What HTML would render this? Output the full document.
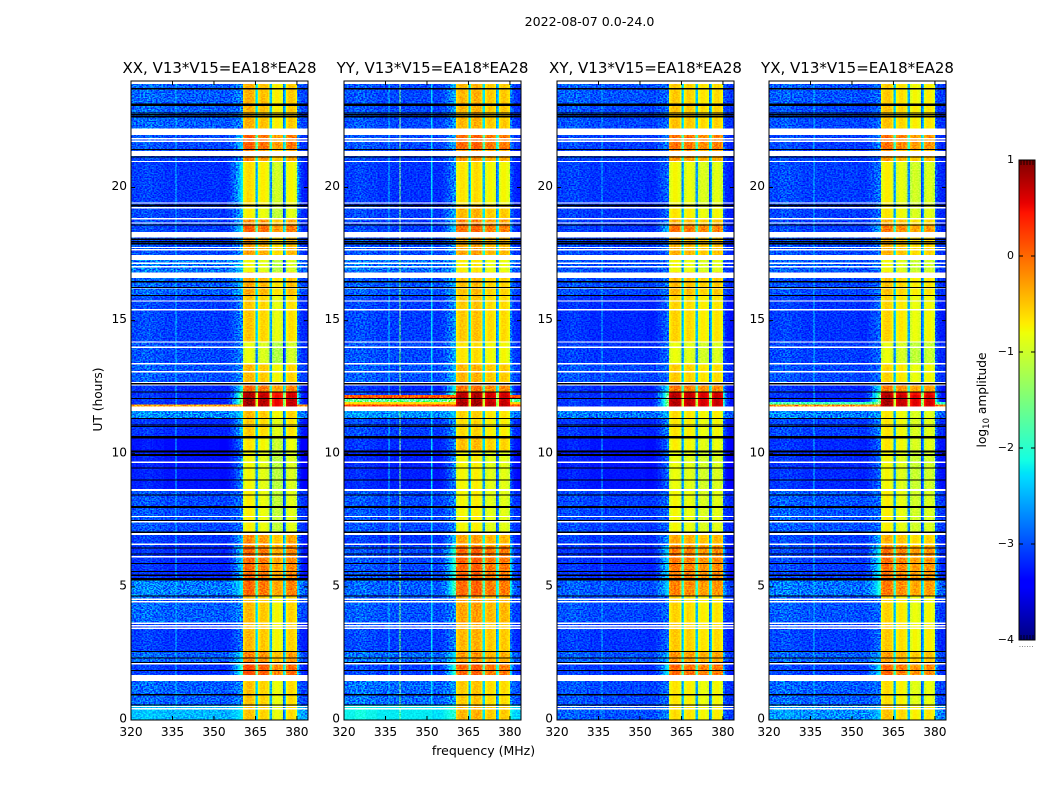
<!DOCTYPE html>
<html lang="en">
<head>
<meta charset="utf-8">
<title>2022-08-07 0.0-24.0 spectrogram panels</title>
<style>
html,body{margin:0;padding:0;background:#fff;}
body{width:1050px;height:800px;overflow:hidden;}
svg{display:block;}
text{font-family:"DejaVu Sans","Liberation Sans",sans-serif;fill:#000;}
</style>
</head>
<body>
<svg id="chart" xmlns="http://www.w3.org/2000/svg" width="1050" height="800" viewBox="0 0 1050 800">
  <text x="589.5" y="26" font-size="12.6" text-anchor="middle">2022-08-07 0.0-24.0</text>
  <g id="panels"></g>
  <text x="483.5" y="755" font-size="12.5" text-anchor="middle">frequency (MHz)</text>
  <text x="0" y="0" font-size="12.2" text-anchor="middle" transform="translate(102,399.5) rotate(-90)">UT (hours)</text>
  <g id="colorbar"></g>
  <text x="0" y="0" font-size="12.2" text-anchor="middle" transform="translate(986,400) rotate(-90)">log<tspan font-size="8.5" dy="3">10</tspan><tspan dy="-3"> amplitude</tspan></text>
  <text x="1026.5" y="647" font-size="6" fill="#777" text-anchor="middle" letter-spacing="0.6">......</text>
</svg>
<script>
// ---- Axis categories and tick labels ----
const panelTitles = ["XX, V13*V15=EA18*EA28", "YY, V13*V15=EA18*EA28", "XY, V13*V15=EA18*EA28", "YX, V13*V15=EA18*EA28"];
const freqTicks = [320, 335, 350, 365, 380];
const hourTicks = [0, 5, 10, 15, 20];
const colorTicks = [1, 0, -1, -2, -3, -4];
const freqRange = [320, 384];
const hourRange = [0, 24];
const colorRange = [-4, 1];
const channelWidthMHz = 0.5;

// ---- Time segments (UT hours) ----
const hourEdges = [24,23.1,22.2,21.4,21.0,19.34,18.82,18.59,18.33,17.46,16.83,15.92,14.2,13.37,12.69,12.32,12.21,12.09,11.94,11.85,11.76,11.34,10.63,10.1,8.64,6.99,6.54,5.3,4.66,3.64,2.55,2.1,1.69,0.56,0];

// ---- log10 amplitude, in-band level per time segment ----
const bandXX = [-.5,-.5,-.05,-.3,-.75,-.85,-.3,-.05,-.4,-.9,-.45,-.62,-.95,-.55,-.1,.65,.7,.75,.75,.75,-.55,-.65,-.8,-.9,-.85,-.3,-.12,-.1,-.55,-.55,-.25,.05,-.6,-.6];
const bandYY = [-.45,-.45,0,-.3,-.7,-.45,-.2,-.05,-.35,-.75,-.5,-.55,-.7,-.45,-.1,.7,.75,.75,.8,.8,-.6,-.65,-.5,-.8,-.8,-.35,0,-.02,-.35,-.45,-.3,0,-.55,-.45];
const bandXY = [-.6,-.55,-.1,-.3,-.85,-.75,-.45,-.1,-.45,-.85,-.5,-.65,-.9,-.6,-.15,.65,.7,.7,.7,.7,-.7,-.75,-.8,-.9,-.85,-.4,-.15,-.2,-.65,-.6,-.3,-.05,-.75,-.7];
const bandYX = [-.65,-.6,-.15,-.4,-.85,-.8,-.5,-.2,-.5,-.9,-.6,-.7,-.95,-.7,-.2,.6,.7,.7,.7,.7,-.8,-.8,-.8,-.9,-.85,-.5,-.15,-.2,-.7,-.65,-.4,-.1,-.75,-.6];

// ---- log10 amplitude, out-of-band level per time segment ----
const bgXX = [-2.85,-2.85,-2.95,-3,-3.05,-3,-3,-3,-2.95,-2.75,-2.85,-3,-2.95,-2.9,-3.1,-3.1,-3.1,-3.1,-3.1,-.3,-2.65,-3.1,-3.25,-3.2,-2.95,-3.05,-3.1,-2.7,-2.85,-3.05,-2.85,-3.05,-2.85,-2.4];
const bgYY = [-2.95,-2.95,-2.95,-3,-3.05,-3,-3,-3,-2.95,-2.8,-2.9,-3,-2.95,-2.9,-3.1,-3,.1,-1.6,-.6,.2,-2.6,-3,-3.1,-3.15,-2.95,-3.05,-2.95,-2.85,-2.9,-3,-2.8,-3,-2.8,-2.15];
const bgXY = [-2.9,-2.95,-3,-3,-3.05,-3.05,-3.05,-3.05,-3,-2.95,-2.95,-3.1,-3.05,-2.95,-3.1,-3.1,-3.1,-3.1,-3.1,-3.1,-2.75,-3.1,-3.2,-3.2,-3,-3.05,-3.1,-2.9,-2.95,-3.05,-2.9,-3.05,-2.95,-2.9];
const bgYX = [-2.9,-2.95,-3,-3,-3,-3,-3,-3,-2.95,-2.9,-2.95,-3.05,-3,-2.95,-3.1,-3.1,-3.1,-3.1,-1.8,-.2,-2.7,-3,-3.1,-3.1,-2.9,-3,-3,-2.75,-2.9,-3,-2.85,-3,-2.85,-2.6];

// ---- log10 amplitude just below the band (skirt at 352-360 MHz) ----
const skirtXX = [-2.7,-2.7,-2.4,-2.7,-2.2,-2.5,-2.5,-2.2,-2.6,-2.4,-2.4,-2.7,-2.7,-2.7,-2.1,-1.5,-1.5,-1.3,-1.3,-1.3,-2.3,-2.4,-2.7,-2.7,-2.8,-2.5,-2.3,-2.2,-2.7,-2.8,-2.2,-1.9,-2.7,-2.2];
const skirtYY = [-2.5,-2.6,-2.5,-2.7,-2.7,-2.5,-2.4,-2.3,-2.6,-2.5,-2.5,-2.6,-2.5,-2.4,-2.1,-1.5,-1.2,-1.2,-1.2,-1.2,-2.4,-2.6,-2.7,-2.7,-2.7,-2.4,-1.9,-1.8,-2.7,-2.7,-2.2,-1.9,-2.6,-2];
const skirtXY = [-2.85,-2.85,-2.7,-2.85,-2.85,-2.85,-2.8,-2.4,-2.85,-2.85,-2.8,-2.85,-2.85,-2.85,-2.2,-1.6,-1.5,-1.4,-1.4,-1.4,-2.5,-2.7,-2.85,-2.85,-2.85,-2.6,-2.3,-2.3,-2.85,-2.85,-2.5,-2.2,-2.85,-2.7];
const skirtYX = [-2.85,-2.85,-2.7,-2.85,-2.8,-2.85,-2.8,-2.5,-2.85,-2.85,-2.8,-2.85,-2.85,-2.85,-2.2,-1.6,-1.5,-1.4,-1.4,-1.4,-2.6,-2.7,-2.85,-2.85,-2.85,-2.5,-2.1,-2,-2.85,-2.85,-2.5,-2.2,-2.85,-2.4];

// ---- Per-channel shapes (0.5 MHz channels) ----
const bandFirstChannel = 81;
const bandShape = [-.2,-.03,0,.05,.05,.05,0,-.03,-.2,-1.9,-1.6,-.15,-.02,.05,.05,.05,0,-.02,-.15,-1.8,-1.7,-.15,-.02,.05,.05,.05,0,-.02,-.15,-2.1,-1.7,-.15,-.02,.05,.05,.05,0,-.02,-.15];
const skirtFirstChannel = 64;
const skirtShape = [0,0,0,0,0,.02,.05,.08,.12,.18,.25,.35,.45,.6,.72,.85,1];
const upperSkirtShape = [.7,.4,.2,.1,.05];
const lowBandSlope = [-.03,.02,-.03,-.08,-.08,-.08,-.08,-.08,-.12,-.08,-.03,-.03,.02,.05,.05,.05];
const aboveBandOffset = -0.2;
const blockOffsetXX = [.1,0,-.25,-.05];
const blockOffsetYY = [0,.05,-.1,-.1];
const blockOffsetXY = [.05,0,-.1,-.05];
const blockOffsetYX = [.1,-.02,-.15,-.1];

// ---- Persistent narrow-band interference: channel, level ----
const rfiChannelsXX = [32];
const rfiLevelsXX = [-2.4];
const rfiChannelsYY = [32, 40, 63];
const rfiLevelsYY = [-2.4, -1.5, -2.3];
const rfiChannelsXY = [32];
const rfiLevelsXY = [-2.5];
const rfiChannelsYX = [32];
const rfiLevelsYX = [-2.4];

// ---- Flagged time ranges (UT hours) ----
const whiteFlags = [[23.89,24],[21.97,22.22],[21.80,21.85],[21.71,21.76],[21.19,21.38],[20.95,21],[19.39,19.44],[19.22,19.27],[18.80,18.85],[18.64,18.69],[18.12,18.33],[17.72,17.77],[17.64,17.69],[17.28,17.46],[17.13,17.18],[17,17.05],[16.60,16.80],[16.21,16.26],[15.71,15.76],[15.38,15.43],[14.17,14.22],[13.98,14.03],[13.35,13.40],[13.06,13.11],[12.65,12.70],[12.56,12.61],[11.61,11.77],[9.66,9.71],[8.60,8.68],[7.62,7.67],[7.42,7.47],[6.95,7.02],[6.57,6.62],[6.11,6.16],[4.51,4.56],[4.42,4.47],[3.61,3.66],[3.52,3.57],[3.42,3.48],[2.09,2.14],[1.47,1.69],[.48,.53],[.40,.45]];
const blackThinHours = [23.71,22.80,22.73,22.66,21.43,21.15,18.59,18.06,17.96,17.89,16.46,16.24,15.94,12.63,12.32,12.08,11.32,11.08,11.02,9.47,9.01,8.45,7.49,7.05,6.46,6.23,5.88,5.58,5.44,4.66,2.57,2.33,2.16,1.86,.95,.56];
const blackThickHours = [23.11,19.32,10.62,10.09,9.95,8.00,5.29];

const bandByPanel = [bandXX, bandYY, bandXY, bandYX];
const bgByPanel = [bgXX, bgYY, bgXY, bgYX];
const skirtByPanel = [skirtXX, skirtYY, skirtXY, skirtYX];
const blockByPanel = [blockOffsetXX, blockOffsetYY, blockOffsetXY, blockOffsetYX];
const rfiChannelsByPanel = [rfiChannelsXX, rfiChannelsYY, rfiChannelsXY, rfiChannelsYX];
const rfiLevelsByPanel = [rfiLevelsXX, rfiLevelsYY, rfiLevelsXY, rfiLevelsYX];

// ---- Layout (not data) ----
const plotLefts = [131, 344, 557, 769];
const plotWidth = 177;
const plotTop = 81;
const plotBottom = 720;
const cbLeft = 1019, cbRight = 1035, cbTop = 160, cbBottom = 640;

const NS = "http://www.w3.org/2000/svg";
function mk(tag, attrs, parent) {
  const el = document.createElementNS(NS, tag);
  for (const k in attrs) el.setAttribute(k, attrs[k]);
  if (parent) parent.appendChild(el);
  return el;
}
function lerpStops(stops, t) {
  if (t <= stops[0][0]) return stops[0][1];
  for (let i = 1; i < stops.length; i++) {
    if (t <= stops[i][0]) {
      const a = stops[i-1], b = stops[i];
      return a[1] + (b[1]-a[1])*(t-a[0])/(b[0]-a[0]);
    }
  }
  return stops[stops.length-1][1];
}
const jetR = [[0,0],[.35,0],[.66,1],[.89,1],[1,.5]];
const jetG = [[0,0],[.125,0],[.375,1],[.64,1],[.91,0],[1,0]];
const jetB = [[0,.5],[.11,1],[.34,1],[.65,0],[1,0]];
function colorScale(v) {
  const t = Math.max(0, Math.min(1, (v-colorRange[0])/(colorRange[1]-colorRange[0])));
  return "rgb(" + Math.round(255*lerpStops(jetR,t)) + "," + Math.round(255*lerpStops(jetG,t)) + "," + Math.round(255*lerpStops(jetB,t)) + ")";
}
function xScale(mhz, left) { return left + (mhz-freqRange[0])/(freqRange[1]-freqRange[0])*plotWidth; }
function yScale(h) { return plotBottom - (h-hourRange[0])/(hourRange[1]-hourRange[0])*(plotBottom-plotTop); }
function cbScale(v) { return cbBottom - (v-colorRange[0])/(colorRange[1]-colorRange[0])*(cbBottom-cbTop); }

function cellValue(p, seg, ch) {
  const rfiIdx = rfiChannelsByPanel[p].indexOf(ch);
  const bg = bgByPanel[p][seg];
  const skirt = skirtByPanel[p][seg];
  const bandIdx = ch - bandFirstChannel;
  if (bandIdx >= 0 && bandIdx < bandShape.length) {
    const block = Math.min(3, Math.floor(bandIdx/10));
    return bandByPanel[p][seg] + blockByPanel[p][block] + bandShape[bandIdx];
  }
  if (bandIdx >= bandShape.length) {
    const k = ch - bandFirstChannel - bandShape.length;
    let v = bg + (bg < -1 ? aboveBandOffset : 0);
    if (k < upperSkirtShape.length && skirt > v) v += (skirt-v)*upperSkirtShape[k];
    return v;
  }
  let v = bg + (bg < -1 ? lowBandSlope[Math.floor(ch/8)] : 0);
  const sk = ch - skirtFirstChannel;
  if (sk >= 0 && skirt > v) v += (skirt-v)*skirtShape[sk];
  if (rfiIdx >= 0 && bg < -1) v = Math.max(v, rfiLevelsByPanel[p][rfiIdx]);
  return v;
}

const panelsRoot = document.getElementById("panels");
const defs = mk("defs", {}, panelsRoot);
const channelCount = Math.round((freqRange[1]-freqRange[0])/channelWidthMHz);

panelTitles.forEach(function (title, p) {
  const left = plotLefts[p];
  const right = left + plotWidth;
  const g = mk("g", {}, panelsRoot);
  
  

  const heat = mk("g", {"shape-rendering":"crispEdges"}, g);
  
  

  for (let seg = 0; seg < hourEdges.length-1; seg++) {
    const y0 = yScale(hourEdges[seg]), y1 = yScale(hourEdges[seg+1]);
    let runStart = 0, runColor = colorScale(cellValue(p, seg, 0));
    for (let ch = 1; ch <= channelCount; ch++) {
      const c = ch < channelCount ? colorScale(cellValue(p, seg, ch)) : null;
      if (c !== runColor) {
        const x0 = xScale(freqRange[0] + runStart*channelWidthMHz, left);
        const x1 = xScale(freqRange[0] + ch*channelWidthMHz, left);
        const cell = mk("rect", {x:x0, y:y0, width:x1-x0, height:y1-y0, fill:runColor}, heat);
        
        
        runStart = ch; runColor = c;
      }
    }
  }

  // fine speckle texture over the cells (decorative, carries no values)
  const filterId = "speckle" + p;
  const filter = mk("filter", {id:filterId, x:"0", y:"0", width:"100%", height:"100%", "color-interpolation-filters":"sRGB"}, defs);
  mk("feTurbulence", {type:"fractalNoise", baseFrequency:"0.55 0.75", numOctaves:"1", seed:String(5+p*7)}, filter);
  mk("feColorMatrix", {type:"matrix", values:"3 0 0 0 -1  3 0 0 0 -1  3 0 0 0 -1  0 0 0 0 1"}, filter);
  const bandX0 = xScale(freqRange[0] + bandFirstChannel*channelWidthMHz, left);
  const bandX1 = xScale(freqRange[0] + (bandFirstChannel+bandShape.length)*channelWidthMHz, left);
  const speckleLow = mk("rect", {x:left, y:plotTop, width:bandX0-left, height:plotBottom-plotTop, filter:"url(#"+filterId+")", style:"mix-blend-mode:overlay", opacity:"0.85"}, g);
  
  
  const speckleBand = mk("rect", {x:bandX0, y:plotTop, width:bandX1-bandX0, height:plotBottom-plotTop, filter:"url(#"+filterId+")", style:"mix-blend-mode:overlay", opacity:"0.4"}, g);
  
  
  const speckleHigh = mk("rect", {x:bandX1, y:plotTop, width:right-bandX1, height:plotBottom-plotTop, filter:"url(#"+filterId+")", style:"mix-blend-mode:overlay", opacity:"0.85"}, g);
  
  

  const flags = mk("g", {"shape-rendering":"crispEdges"}, g);
  
  
  whiteFlags.forEach(function (f) {
    const r = mk("rect", {x:left, y:yScale(f[1]), width:plotWidth, height:yScale(f[0])-yScale(f[1]), fill:"#fff"}, flags);
    
    
  });
  blackThinHours.forEach(function (h) {
    const r = mk("rect", {x:left, y:yScale(h)-0.6, width:plotWidth, height:1.2, fill:"#000"}, flags);
    
    
  });
  blackThickHours.forEach(function (h) {
    const r = mk("rect", {x:left, y:yScale(h)-1.1, width:plotWidth, height:2.2, fill:"#000"}, flags);
    
    
  });

  const frame = mk("rect", {x:left, y:plotTop, width:plotWidth, height:plotBottom-plotTop, fill:"none", stroke:"#000", "stroke-width":"1"}, g);
  
  

  freqTicks.forEach(function (f) {
    const x = xScale(f, left);
    const tb = mk("line", {x1:x, x2:x, y1:plotBottom, y2:plotBottom-4, stroke:"#000", "stroke-width":"1"}, g);
    
    
    const tt = mk("line", {x1:x, x2:x, y1:plotTop, y2:plotTop+4, stroke:"#000", "stroke-width":"1"}, g);
    
    
    const lab = mk("text", {x:x, y:736, "font-size":"12.2", "text-anchor":"middle"}, g);
    
    
    lab.textContent = String(f);
  });
  hourTicks.forEach(function (h) {
    const y = yScale(h);
    const tl = mk("line", {x1:left, x2:left+4, y1:y, y2:y, stroke:"#000", "stroke-width":"1"}, g);
    
    
    const tr = mk("line", {x1:right, x2:right-4, y1:y, y2:y, stroke:"#000", "stroke-width":"1"}, g);
    
    
    const lab = mk("text", {x:left-4, y:y+2.5, "font-size":"12.2", "text-anchor":"end"}, g);
    
    
    lab.textContent = String(h);
  });

  const t = mk("text", {x:left+plotWidth/2, y:73, "font-size":"15", "text-anchor":"middle"}, g);
  
  
  t.textContent = title;
});

// ---- Colorbar ----
const cb = document.getElementById("colorbar");
const cbGradient = mk("g", {"shape-rendering":"crispEdges"}, cb);


for (let py = cbTop; py < cbBottom; py++) {
  const v = colorRange[1] - (py+0.5-cbTop)/(cbBottom-cbTop)*(colorRange[1]-colorRange[0]);
  mk("rect", {x:cbLeft, y:py, width:cbRight-cbLeft, height:1.2, fill:colorScale(v)}, cbGradient);
}
const cbFrame = mk("rect", {x:cbLeft, y:cbTop, width:cbRight-cbLeft, height:cbBottom-cbTop, fill:"none", stroke:"#000", "stroke-width":"1"}, cb);


colorTicks.forEach(function (v) {
  const y = cbScale(v);
  const a = mk("line", {x1:cbLeft, x2:cbLeft+4, y1:y, y2:y, stroke:"#000", "stroke-width":"1"}, cb);
  
  
  const b = mk("line", {x1:cbRight, x2:cbRight-4, y1:y, y2:y, stroke:"#000", "stroke-width":"1"}, cb);
  
  
  const lab = mk("text", {x:1014, y:y+3, "font-size":"11", "text-anchor":"end"}, cb);
  
  
  lab.textContent = v < 0 ? "\u2212" + Math.abs(v) : String(v);
});
for (let x = cbLeft + 2; x < cbRight; x += 3) {
  const top = mk("line", {x1:x, x2:x, y1:cbTop, y2:cbTop+5, stroke:"#000", "stroke-width":"0.8"}, cb);
  
  
  const bot = mk("line", {x1:x, x2:x, y1:cbBottom, y2:cbBottom-5, stroke:"#000", "stroke-width":"0.8"}, cb);
  
  
}
</script>
</body>
</html>
